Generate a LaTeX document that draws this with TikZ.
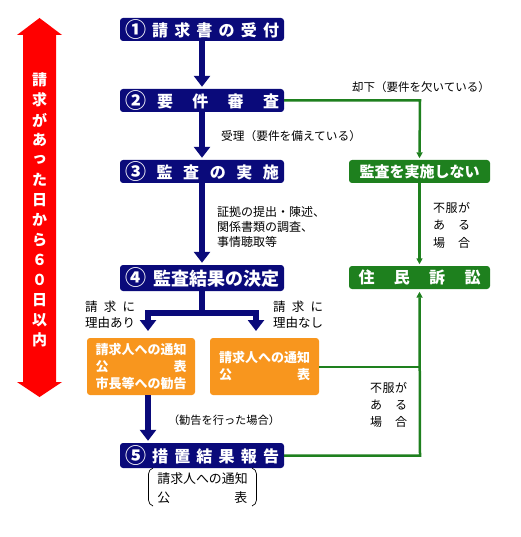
\documentclass[tikz,border=0pt]{standalone}
\usepackage{fontspec}
\setmainfont{Noto Sans CJK JP}
\usetikzlibrary{arrows.meta}
\definecolor{navy}{RGB}{10,10,122}
\definecolor{grn}{RGB}{30,128,30}
\definecolor{orng}{RGB}{248,150,30}
\definecolor{rd}{RGB}{255,0,0}
\newcommand\fs[1]{\fontsize{#1}{#1}\selectfont}
\newcommand\cnum[1]{\raisebox{-0.8pt}{\fs{21}#1}}
\tikzset{
  bluebox/.style={fill=navy, rounded corners=3pt, minimum width=164pt, minimum height=23pt, inner sep=0pt, text=white, font=\bfseries\fs{16}},
  greenbox/.style={fill=grn, rounded corners=3pt, minimum width=141pt, minimum height=23pt, inner sep=0pt, text=white, font=\bfseries\fs{15}},
  orangebox/.style={fill=orng, rounded corners=3pt, minimum height=57pt, inner sep=0pt, text=white, align=center, font=\bfseries\fontsize{13}{17}\selectfont},
  barrow/.style={draw=navy, line width=6pt, line join=miter, -{Triangle[width=16pt,length=11pt]}},
  gline/.style={draw=grn, line width=2.5pt},
  garrow/.style={draw=grn, line width=2.5pt, -{Triangle[width=6pt,length=6pt]}},
  lbl/.style={inner sep=0pt, text=black, font=\fs{12}},
  redtxt/.style={inner sep=0pt, text=white, font=\bfseries\fs{15}}
}
\begin{document}
\begin{tikzpicture}[x=1pt,y=-1pt]
\useasboundingbox (0,0) rectangle (520,537);

% red arrow
\fill[rd] (39.5,18) -- (62,35) -- (56,35) -- (56,382) -- (62,382) -- (39.5,397) -- (17,382) -- (23,382) -- (23,35) -- (17,35) -- cycle;
\foreach \c [count=\i from 0] in {請,求,が,あ,っ,た,日,か,ら,６,０,日,以,内}
  \node[redtxt, name=r\i] at (39.5,80+20*\i) {\c};

% blue boxes
\node[bluebox] (b1) at (202,29.5) {\makebox[154pt][s]{\cnum{①}\hfill 請\hfill 求\hfill 書\hfill の\hfill 受\hfill 付}};
\node[bluebox] (b2) at (202,100.5) {\makebox[154pt][s]{\cnum{②}\hspace{11pt}要\hfill 件\hfill 審\hfill 査}};
\node[bluebox] (b3) at (202,171.5) {\makebox[154pt][s]{\cnum{③}\hfill 監\hfill 査\hfill の\hfill 実\hfill 施}};
\node[bluebox, minimum height=26pt, font=\bfseries\fs{18}] (b4) at (202,278) {\makebox[154pt][s]{\cnum{④}\hfill 監査結果の決定}};
\node[bluebox, minimum height=25pt] (b5) at (202,455.5) {\makebox[154pt][s]{\cnum{⑤}\hfill 措\hfill 置\hfill 結\hfill 果\hfill 報\hfill 告}};

% green boxes
\node[greenbox] (no) at (419.5,171.5) {監査を実施しない};
\node[greenbox, font=\bfseries\fs{16}] (suit) at (419.5,277.5) {\makebox[122pt][s]{住\hfill 民\hfill 訴\hfill 訟}};

% orange boxes
\node[orangebox, minimum width=108pt] (oL) at (141,366.5) {請求人への通知\\\makebox[91pt][s]{公\hfill 表}\\市長等への勧告};
\node[orangebox, minimum width=109pt] (oR) at (264.5,366.5) {請求人への通知\\\makebox[91pt][s]{公\hfill 表}};

% blue arrows
\draw[barrow] (b1.south) -- ([yshift=2pt]b2.north);
\draw[barrow] (b2.south) -- ([yshift=2pt]b3.north);
\draw[barrow] (b3.south) -- ([yshift=2pt]b4.north);
\coordinate (sp) at (202,313);
\coordinate (tL) at (148,331);
\coordinate (tR) at (256,331);
\draw[barrow] (b4.south) -- (sp) -| (tL);
\draw[barrow] (sp) -| (tR);
\draw[barrow] (oL.south -| tL) -- ([yshift=2pt]b5.north -| tL);

% green connectors
\coordinate (g1) at (420,100.5);
\draw[garrow] (b2.east) -- (g1) -- ([yshift=1.5pt]no.north);
\draw[garrow] (no.south) -- ([yshift=1.5pt]suit.north);
\coordinate (g2) at (420,367);
\coordinate (g3) at (420,455.5);
\draw[gline] (oR.east |- g2) -- (g2);
\draw[garrow] (b5.east) -- (g3) -- ([yshift=-2.5pt]suit.south);

% labels
\node[lbl, font=\fs{11.5}] (l1) at (421,87) {却下（要件を欠いている）};
\node[lbl, font=\fs{11.7}, anchor=west] (l2) at (221,136.5) {受理（要件を備えている）};
\node[lbl, anchor=west, align=left, font=\fontsize{12}{14.7}\selectfont] (l3) at (217,227) {証拠の提出・陳述、\\関係書類の調査、\\事情聴取等};
\node[lbl, anchor=west, align=left, font=\fontsize{12.5}{16}\selectfont] (l4) at (85,315) {\makebox[50pt][s]{請\hfill 求\hfill に}\\理由あり};
\node[lbl, anchor=west, align=left, font=\fontsize{12.5}{16}\selectfont] (l5) at (273,315) {\makebox[50pt][s]{請\hfill 求\hfill に}\\理由なし};
\node[lbl, anchor=west, align=left, font=\fontsize{12}{17.5}\selectfont] (l6) at (433,225) {\makebox[37pt][s]{不\hfill 服\hfill が}\\\makebox[37pt][s]{あ\hfill る}\\\makebox[37pt][s]{場\hfill 合}};
\node[lbl, anchor=west, align=left, font=\fontsize{12}{17}\selectfont] (l7) at (370,405) {\makebox[37pt][s]{不\hfill 服\hfill が}\\\makebox[37pt][s]{あ\hfill る}\\\makebox[37pt][s]{場\hfill 合}};
\node[lbl, font=\fs{11.2}] (l8) at (224,420) {（勧告を行った場合）};
\node[lbl, align=left, font=\fontsize{12.9}{19}\selectfont] (l9) at (202.5,488.5) {請求人への通知\\\makebox[90pt][s]{公\hfill 表}};

% brackets
\draw[black, line width=0.7pt] (153,468) to[out=200,in=90] (148.5,474) -- (148.5,500) to[out=-90,in=160] (153,506);
\draw[black, line width=0.7pt] (252,468) to[out=-20,in=90] (256.5,474) -- (256.5,500) to[out=-90,in=20] (252,506);
\end{tikzpicture}
\end{document}
